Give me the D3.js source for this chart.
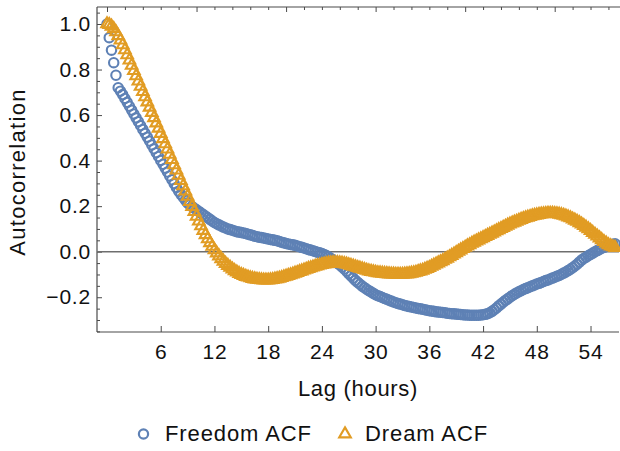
<!DOCTYPE html>
<html><head><meta charset="utf-8">
<script src="https://cdn.jsdelivr.net/npm/d3@7"></script>
<style>
body{margin:0;background:#fff}
text{font-family:"Liberation Sans",Arial,sans-serif;fill:#111}
</style>
</head><body>
<svg id="c" width="620" height="451"></svg>
<script>
// ---- data ----
const stepHours = 0.25; // lag step between successive ACF values
const freedomACF = [
1.000,0.940,0.885,0.830, 0.775,0.720,0.705,0.690, 0.673,0.656,0.639,0.622,
0.605,0.588,0.571,0.554, 0.537,0.520,0.503,0.486, 0.469,0.452,0.435,0.418,
0.401,0.384,0.367,0.350, 0.333,0.316,0.299,0.282, 0.266,0.252,0.239,0.226,
0.214,0.205,0.198,0.191, 0.184,0.177,0.170,0.163, 0.156,0.149,0.142,0.135,
0.128,0.123,0.118,0.113, 0.108,0.104,0.100,0.097, 0.094,0.091,0.088,0.086,
0.084,0.082,0.080,0.077, 0.074,0.071,0.068,0.066, 0.064,0.062,0.060,0.058,
0.056,0.054,0.052,0.050, 0.048,0.045,0.042,0.039, 0.036,0.034,0.032,0.030,
0.028,0.025,0.022,0.019, 0.016,0.013,0.010,0.007, 0.004,0.001,-0.002,-0.005,
-0.008,-0.012,-0.017,-0.023, -0.030,-0.037,-0.044,-0.051, -0.058,-0.067,-0.076,-0.086,
-0.096,-0.106,-0.116,-0.126, -0.135,-0.143,-0.151,-0.158, -0.165,-0.171,-0.177,-0.183,
-0.189,-0.193,-0.197,-0.201, -0.205,-0.209,-0.213,-0.217, -0.221,-0.224,-0.227,-0.230,
-0.233,-0.236,-0.238,-0.241, -0.243,-0.245,-0.247,-0.249, -0.251,-0.253,-0.255,-0.257,
-0.259,-0.260,-0.262,-0.264, -0.265,-0.266,-0.267,-0.268, -0.270,-0.271,-0.272,-0.273,
-0.274,-0.275,-0.276,-0.277, -0.278,-0.278,-0.279,-0.279, -0.279,-0.279,-0.279,-0.278,
-0.277,-0.275,-0.272,-0.268, -0.262,-0.255,-0.247,-0.238, -0.230,-0.222,-0.214,-0.207,
-0.200,-0.193,-0.187,-0.181, -0.176,-0.171,-0.166,-0.162, -0.158,-0.154,-0.150,-0.146,
-0.142,-0.139,-0.135,-0.131, -0.127,-0.124,-0.120,-0.116, -0.112,-0.108,-0.104,-0.099,
-0.094,-0.089,-0.083,-0.077, -0.070,-0.063,-0.055,-0.046, -0.037,-0.030,-0.024,-0.018,
-0.012,-0.006,0.000,0.005, 0.010,0.015,0.019,0.023, 0.027,0.030,0.033,0.035
];
const dreamACF = [
1.000,0.997,0.990,0.979, 0.965,0.948,0.929,0.908, 0.886,0.864,0.841,0.818,
0.795,0.772,0.749,0.726, 0.703,0.680,0.657,0.634, 0.611,0.588,0.565,0.542,
0.519,0.496,0.473,0.450, 0.427,0.404,0.381,0.358, 0.335,0.312,0.289,0.266,
0.243,0.220,0.198,0.176, 0.155,0.134,0.113,0.093, 0.074,0.056,0.039,0.023,
0.008,-0.006,-0.019,-0.031, -0.042,-0.052,-0.061,-0.069, -0.077,-0.084,-0.090,-0.096,
-0.101,-0.105,-0.109,-0.112, -0.115,-0.118,-0.120,-0.122, -0.123,-0.124,-0.125,-0.125,
-0.125,-0.124,-0.123,-0.121, -0.119,-0.117,-0.114,-0.111, -0.108,-0.105,-0.102,-0.099,
-0.095,-0.092,-0.088,-0.085, -0.081,-0.078,-0.074,-0.071, -0.068,-0.065,-0.062,-0.059,
-0.057,-0.055,-0.053,-0.051, -0.050,-0.049,-0.049,-0.049, -0.050,-0.051,-0.053,-0.055,
-0.058,-0.061,-0.064,-0.067, -0.070,-0.073,-0.076,-0.079, -0.082,-0.085,-0.087,-0.089,
-0.091,-0.093,-0.094,-0.095, -0.096,-0.097,-0.098,-0.099, -0.099,-0.100,-0.100,-0.100,
-0.100,-0.099,-0.098,-0.097, -0.095,-0.093,-0.091,-0.088, -0.085,-0.082,-0.078,-0.074,
-0.070,-0.065,-0.060,-0.055, -0.050,-0.045,-0.040,-0.034, -0.029,-0.023,-0.017,-0.011,
-0.005,0.001,0.007,0.013, 0.019,0.025,0.030,0.036, 0.041,0.046,0.051,0.056,
0.061,0.066,0.071,0.076, 0.081,0.086,0.091,0.096, 0.101,0.106,0.111,0.116,
0.121,0.125,0.129,0.133, 0.137,0.141,0.145,0.148, 0.151,0.154,0.157,0.159,
0.161,0.163,0.165,0.166, 0.167,0.168,0.168,0.168, 0.167,0.166,0.164,0.162,
0.159,0.156,0.152,0.148, 0.143,0.138,0.133,0.127, 0.121,0.114,0.107,0.100,
0.092,0.084,0.076,0.068, 0.060,0.052,0.044,0.037, 0.030,0.025,0.021,0.018
];
const seriesNames = ["Freedom ACF", "Dream ACF"];
const seriesColors = ["#5E81B5", "#E19C24"];
const xTickValues = [6, 12, 18, 24, 30, 36, 42, 48, 54];
const xTopMajor = [0, 10, 20, 30, 40, 50];
const xTopMinor = [2,4,6,8,12,14,16,18,22,24,26,28,32,34,36,38,42,44,46,48,52,54,56];
const yTickValues = [-0.2, 0.0, 0.2, 0.4, 0.6, 0.8, 1.0];
const yMinorTicks = [-0.35,-0.3,-0.25,-0.15,-0.1,-0.05,0.05,0.1,0.15,0.25,0.3,0.35,0.45,0.5,0.55,0.65,0.7,0.75,0.85,0.9,0.95,1.05];
const xLabel = "Lag (hours)";
const yLabel = "Autocorrelation";

// ---- layout ----
const L = 97, R = 619, T = 7, B = 332;
const FONT = '"Liberation Sans",Arial,sans-serif';
const svg = d3.select("#c");
const x = d3.scaleLinear().domain([0, 50]).range([107, 554.7]);
const y = d3.scaleLinear().domain([0, 1]).range([251.7, 24]);
const frameColor = "#4a4a4a";

function styleAxis(g){
  g.select(".domain").remove();
  g.selectAll(".tick line").attr("stroke", frameColor).attr("stroke-width", 1);
}
function styleTickText(g){
  g.selectAll("text").attr("font-size", 21).attr("letter-spacing", "0.8px")
    .attr("font-family", FONT).attr("fill", "#111");
}
// left axis
svg.append("g").attr("transform", `translate(${L},0)`)
  .call(d3.axisLeft(y).tickValues(yTickValues).tickSizeInner(-5).tickSizeOuter(0).tickPadding(6)
        .tickFormat(d3.format(".1f")))
  .call(styleAxis).call(styleTickText);
svg.append("g").attr("transform", `translate(${L},0)`)
  .call(d3.axisLeft(y).tickValues(yMinorTicks).tickSizeInner(-3).tickSizeOuter(0).tickFormat(""))
  .call(styleAxis);
// bottom axis
svg.append("g").attr("transform", `translate(0,${B})`)
  .call(d3.axisBottom(x).tickValues(xTickValues).tickSizeInner(-6).tickSizeOuter(0).tickPadding(12)
        .tickFormat(d3.format("d")))
  .call(styleAxis).call(styleTickText);
// top axis
svg.append("g").attr("transform", `translate(0,${T})`)
  .call(d3.axisTop(x).tickValues(xTopMajor).tickSizeInner(-5).tickSizeOuter(0).tickFormat(""))
  .call(styleAxis);
svg.append("g").attr("transform", `translate(0,${T})`)
  .call(d3.axisTop(x).tickValues(xTopMinor).tickSizeInner(-3).tickSizeOuter(0).tickFormat(""))
  .call(styleAxis);

// frame lines
svg.append("line").attr("x1", L).attr("x2", L).attr("y1", T).attr("y2", B)
  .attr("stroke", frameColor).attr("stroke-width", 1.2);
svg.append("line").attr("x1", L).attr("x2", R).attr("y1", B).attr("y2", B)
  .attr("stroke", frameColor).attr("stroke-width", 1.2);
svg.append("line").attr("x1", L).attr("x2", 620).attr("y1", T).attr("y2", T)
  .attr("stroke", frameColor).attr("stroke-width", 1.2);
// zero line
svg.append("line").attr("x1", L).attr("x2", R).attr("y1", y(0)).attr("y2", y(0))
  .attr("stroke", "#6e6e6e").attr("stroke-width", 1.4);

// ---- markers ----
const triPath = s => { const h = s*Math.sqrt(3)/2; return `M0,${-2*h/3}L${s/2},${h/3}L${-s/2},${h/3}Z`; };
const blueData = freedomACF.map((v,i) => [i*stepHours, v]);
const orangeData = dreamACF.map((v,i) => [i*stepHours, v]);

svg.append("g").selectAll("circle").data(blueData).join("circle")
  .attr("cx", d => x(d[0])).attr("cy", d => y(d[1])).attr("r", 4.7)
  .attr("fill", "none").attr("stroke", seriesColors[0]).attr("stroke-width", 2.1);
svg.append("g").selectAll("path").data(orangeData).join("path")
  .attr("transform", d => `translate(${x(d[0])},${y(d[1])})`)
  .attr("d", triPath(11.5))
  .attr("fill", "none").attr("stroke", seriesColors[1]).attr("stroke-width", 2.1)
  .attr("stroke-linejoin", "miter");

// ---- labels ----
function labelStyle(t, ls){
  t.attr("font-size", 22).attr("letter-spacing", ls + "px").attr("font-family", FONT)
   .attr("fill", "#111");
}
svg.append("text").attr("x", 358).attr("y", 396).attr("text-anchor", "middle")
  .call(labelStyle, 0.7).text(xLabel);
svg.append("text").attr("transform", "translate(25,172) rotate(-90)").attr("text-anchor", "middle")
  .call(labelStyle, 1.3).text(yLabel);

// ---- legend ----
const lg = svg.append("g");
lg.append("circle").attr("cx", 143.5).attr("cy", 434).attr("r", 4.6)
  .attr("fill", "none").attr("stroke", seriesColors[0]).attr("stroke-width", 2.2);
lg.append("text").attr("x", 165).attr("y", 441).call(labelStyle, 0.9).text(seriesNames[0]);
lg.append("path").attr("transform", "translate(345,434)").attr("d", triPath(11.5))
  .attr("fill", "none").attr("stroke", seriesColors[1]).attr("stroke-width", 2.2);
lg.append("text").attr("x", 365).attr("y", 441).call(labelStyle, 0.9).text(seriesNames[1]);
</script>
</body></html>
